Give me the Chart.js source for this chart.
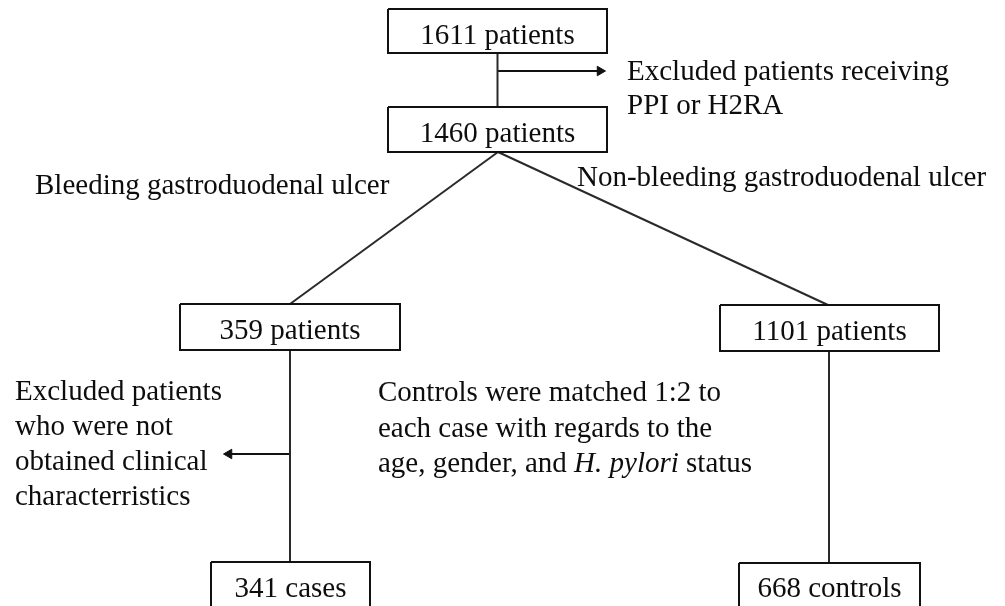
<!DOCTYPE html>
<html>
<head>
<meta charset="utf-8">
<script src="https://cdn.jsdelivr.net/npm/chart.js@4/dist/chart.umd.min.js"></script>
<style>
  html, body { margin: 0; padding: 0; background: #fff; }
  canvas { display: block; }
</style>
</head>
<body>
<canvas id="c" width="1005" height="606"></canvas>
<script>
const counts = [1611, 1460, 359, 1101, 341, 668];
const units = ['patients', 'patients', 'patients', 'patients', 'cases', 'controls'];
const branchLabels = ['Bleeding gastroduodenal ulcer', 'Non-bleeding gastroduodenal ulcer'];
const exclusionTop = ['Excluded patients receiving', 'PPI or H2RA'];
const exclusionLeft = ['Excluded patients', 'who were not', 'obtained clinical', 'characterristics'];
const matchingNote = [
  [['Controls were matched 1:2 to', false]],
  [['each case with regards to the', false]],
  [['age, gender, and ', false], ['H. pylori', true], [' status', false]]
];

// ---- Layout in axis units (x: 0..1005, y: 0..606 downwards) ----
const boxLeft   = [388, 388, 180, 720, 211, 739];
const boxRight  = [607, 607, 400, 939, 370, 920];
const boxTop    = [9, 107, 304, 305, 562, 563];
const boxBottom = [53, 152, 350, 351, 630, 630];
const boxTextY  = [44, 142, 339, 340, 597, 597];
// connectors: [fromX, fromY, toX, toY]
const connectors = [
  [497.5, 53, 497.5, 107],
  [498, 152, 290, 304],
  [498, 152, 828, 305],
  [290, 350, 290, 562],
  [829, 351, 829, 563]
];
// arrows: [fromX, fromY, toX, toY, rotation]
const arrows = [
  [497.5, 71, 600, 71, 90],
  [290, 454, 229, 454, 270]
];
const textBlocks = [
  { lines: [[[branchLabels[0], false]]], x: 35, y: 194 },
  { lines: [[[branchLabels[1], false]]], x: 577, y: 186 },
  { lines: exclusionTop.map(t => [[t, false]]), x: 627, y: 80, lh: 34 },
  { lines: exclusionLeft.map(t => [[t, false]]), x: 15, y: 400, lh: 35 },
  { lines: matchingNote, x: 378, y: 401, lh: 35.5 }
];

const FONT = '"Liberation Serif", "Times New Roman", serif';
const FONT_SIZE = 29;
const INK = '#0d0d0d';

const datasets = [];
counts.forEach((c, i) => {
  datasets.push({
    data: [
      { x: boxLeft[i], y: boxTop[i] },
      { x: boxRight[i], y: boxTop[i] },
      { x: boxRight[i], y: boxBottom[i] },
      { x: boxLeft[i], y: boxBottom[i] },
      { x: boxLeft[i], y: boxTop[i] }
    ],
    showLine: true, borderColor: '#111', borderWidth: 2, pointRadius: 0,
    tension: 0, fill: false, borderJoinStyle: 'miter'
  });
});
connectors.forEach(c => {
  datasets.push({
    data: [{ x: c[0], y: c[1] }, { x: c[2], y: c[3] }],
    showLine: true, borderColor: '#2a2a2a', borderWidth: 2, pointRadius: 0, tension: 0
  });
});
arrows.forEach(a => {
  datasets.push({
    data: [{ x: a[0], y: a[1] }, { x: a[2], y: a[3] }],
    showLine: true, borderColor: '#111', borderWidth: 2, tension: 0,
    pointStyle: 'triangle', pointRotation: a[4],
    pointRadius: ctx => ctx.dataIndex === 1 ? 5.5 : 0,
    pointBackgroundColor: '#111', pointBorderColor: '#111', pointBorderWidth: 1
  });
});

const textPlugin = {
  id: 'flowText',
  beforeDraw(chart) {
    const ctx = chart.ctx;
    ctx.save();
    ctx.fillStyle = '#fff';
    ctx.fillRect(0, 0, chart.width, chart.height);
    ctx.restore();
  },
  afterDatasetsDraw(chart) {
    const ctx = chart.ctx;
    const xs = chart.scales.x, ys = chart.scales.y;
    ctx.save();
    ctx.fillStyle = INK;
    ctx.textBaseline = 'alphabetic';
    // box labels
    ctx.textAlign = 'center';
    ctx.font = FONT_SIZE + 'px ' + FONT;
    counts.forEach((c, i) => {
      const cx = xs.getPixelForValue((boxLeft[i] + boxRight[i]) / 2);
      const cy = ys.getPixelForValue(boxTextY[i]);
      ctx.fillText(c + ' ' + units[i], cx, cy);
    });
    // free text blocks
    ctx.textAlign = 'left';
    textBlocks.forEach(b => {
      b.lines.forEach((segs, li) => {
        let x = xs.getPixelForValue(b.x);
        const y = ys.getPixelForValue(b.y + li * (b.lh || 0));
        segs.forEach(([t, ital]) => {
          ctx.font = (ital ? 'italic ' : '') + FONT_SIZE + 'px ' + FONT;
          ctx.fillText(t, x, y);
          x += ctx.measureText(t).width;
        });
      });
    });
    ctx.restore();
  }
};

new Chart(document.getElementById('c'), {
  type: 'scatter',
  data: { datasets },
  options: {
    responsive: false,
    animation: false,
    events: [],
    layout: { padding: 0, autoPadding: false },
    plugins: { legend: { display: false }, tooltip: { enabled: false } },
    scales: {
      x: { type: 'linear', min: 0, max: 1005, display: false },
      y: { type: 'linear', min: 0, max: 606, reverse: true, display: false }
    }
  },
  plugins: [textPlugin]
});
</script>
</body>
</html>
